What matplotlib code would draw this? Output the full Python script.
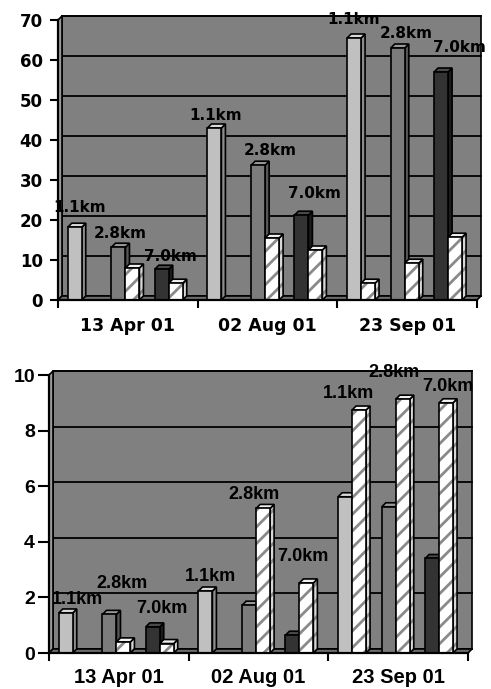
import matplotlib
matplotlib.use("Agg")
import matplotlib.pyplot as plt
from matplotlib.patches import Polygon

dates = ["13 Apr 01", "02 Aug 01", "23 Sep 01"]
series = ["1.1km", "2.8km", "7.0km"]

# upper chart: solid bars and hatched bars for each distance
top_solid_11 = [18.2, 43.0, 65.5]
top_solid_28 = [13.2, 33.7, 63.0]
top_solid_70 = [7.7, 21.2, 57.0]
top_hatch_11 = [0, 0, 4.2]
top_hatch_28 = [8.0, 15.5, 9.2]
top_hatch_70 = [4.2, 12.5, 15.7]

# lower chart
bot_solid_11 = [1.44, 2.23, 5.62]
bot_solid_28 = [1.39, 1.72, 5.26]
bot_solid_70 = [0.94, 0.64, 3.40]
bot_hatch_11 = [0, 0, 8.74]
bot_hatch_28 = [0.40, 5.20, 9.13]
bot_hatch_70 = [0.34, 2.52, 9.00]

top_ticks = [0, 10, 20, 30, 40, 50, 60, 70]
bot_ticks = [0, 2, 4, 6, 8, 10]

# label nudges in pixels (dx, dy above the taller bar of each pair)
top_nudge = [[(-2, 20), (-5, 14), (2, 13)],
             [(-6, 13), (5, 15), (6, 22)],
             [(-7, 18), (1, 15), (11, 24)]]
bot_nudge = [[(5, 13), (6, 31), (2, 18)],
             [(-2, 15), (-2, 14), (4, 26)],
             [(-4, 17), (-2, 27), (9, 16)]]

# front, top, side colours for the solid bars
solid_cols = [("#c0c0c0", "#dadada", "#8c8c8c"),
              ("#7c7c7c", "#9a9a9a", "#575757"),
              ("#333333", "#4a4a4a", "#1c1c1c")]
hatch_cols = ("#ffffff", "#f2f2f2", "#d8d8d8")
BG = "#808080"

plt.rcParams["hatch.linewidth"] = 2.0

fig = plt.figure(figsize=(4.91, 6.89), dpi=100)
ax_top = fig.add_axes([58 / 491, 389 / 689, 419 / 491, 280 / 689])
ax_bot = fig.add_axes([49 / 491, 36 / 689, 419 / 491, 278 / 689])


def poly(ax, pts, fc, z, hatch=None, lw=1.2):
    if hatch:
        ax.add_patch(Polygon(pts, closed=True, facecolor=fc, edgecolor="#8a8a8a",
                             lw=0, hatch=hatch, zorder=z, clip_on=False))
        ax.add_patch(Polygon(pts, closed=True, fill=False, edgecolor="black",
                             lw=lw, zorder=z, clip_on=False))
    else:
        ax.add_patch(Polygon(pts, closed=True, facecolor=fc, edgecolor="black",
                             lw=lw, zorder=z, clip_on=False))


def box(ax, x0, w, h, cols, bx, by, z, hatch=None):
    front, top, side = cols
    poly(ax, [(x0 + w, 0), (x0 + w + bx, by), (x0 + w + bx, h + by), (x0 + w, h)], side, z, hatch)
    poly(ax, [(x0, h), (x0 + w, h), (x0 + w + bx, h + by), (x0 + bx, h + by)], top, z)
    poly(ax, [(x0, 0), (x0 + w, 0), (x0 + w, h), (x0, h)], front, z, hatch)


def draw_panel(ax, solids, hatches, ymax, ticks, fam, fs_tick, fs_cat, fs_lab, nudges, ytick_len, ypad, xpad):
    bb = ax.get_position()
    wpx = bb.width * fig.get_figwidth() * fig.dpi
    hpx = bb.height * fig.get_figheight() * fig.dpi
    ux = 3 / wpx
    uy = ymax / hpx
    ax.set_xlim(0, 3)
    ax.set_ylim(0, ymax)
    ax.set_facecolor("none")
    wx, wy = 4 * ux, 4 * uy

    # walls and floor
    poly(ax, [(wx, wy), (3 + wx, wy), (3 + wx, ymax + wy), (wx, ymax + wy)], BG, 0)
    for t in ticks:
        ax.plot([wx, 3 + wx], [t + wy, t + wy], color="black", lw=1.3, zorder=0.5, clip_on=False)
    poly(ax, [(0, 0), (0, ymax), (wx, ymax + wy), (wx, wy)], "#9a9a9a", 0.6)
    poly(ax, [(0, 0), (3, 0), (3 + wx, wy), (wx, wy)], "#6e6e6e", 0.6)

    bw = 0.1
    offs = [0.07, 0.383, 0.693]
    bx, by = 4 * ux, 4 * uy
    z = 2
    for i in range(3):
        for s in range(3):
            x0 = i + offs[s]
            vs = solids[s][i]
            vh = hatches[s][i]
            if vs > 0:
                box(ax, x0, bw, vs, solid_cols[s], bx, by, z)
            z += 0.1
            if vh > 0:
                box(ax, x0 + bw, bw, vh, hatch_cols, bx, by, z, hatch="//")
            z += 0.1
            dx, dy = nudges[i][s]
            ax.annotate(series[s], xy=(x0 + bw, max(vs, vh)), xytext=(dx, dy),
                        textcoords="offset pixels", ha="center", va="center",
                        fontsize=fs_lab, fontweight="bold", family=fam,
                        zorder=20, annotation_clip=False)

    for side in ["top", "right"]:
        ax.spines[side].set_visible(False)
    for side in ["left", "bottom"]:
        ax.spines[side].set_linewidth(1.6)
        ax.spines[side].set_zorder(15)
    ax.set_yticks(ticks)
    ax.set_yticklabels([str(t) for t in ticks], fontsize=fs_tick, fontweight="bold", family=fam)
    ax.tick_params(axis="y", length=ytick_len, width=1.5, pad=ypad)
    ax.set_xticks([0, 1, 2, 3])
    ax.set_xticklabels([])
    ax.tick_params(axis="x", which="major", length=6, width=1.5)
    ax.set_xticks([0.5, 1.5, 2.5], minor=True)
    ax.set_xticklabels(dates, minor=True, fontsize=fs_cat, fontweight="bold", family=fam)
    ax.tick_params(axis="x", which="minor", length=0, pad=xpad)


draw_panel(ax_top,
           [top_solid_11, top_solid_28, top_solid_70],
           [top_hatch_11, top_hatch_28, top_hatch_70],
           70, top_ticks, "DejaVu Sans", 12, 12.5, 11, top_nudge, 6, 5, 12)
draw_panel(ax_bot,
           [bot_solid_11, bot_solid_28, bot_solid_70],
           [bot_hatch_11, bot_hatch_28, bot_hatch_70],
           10, bot_ticks, "Liberation Sans", 14, 14.5, 13, bot_nudge, 8, 2, 11)

fig.savefig("out.png", dpi=100, facecolor="white")
